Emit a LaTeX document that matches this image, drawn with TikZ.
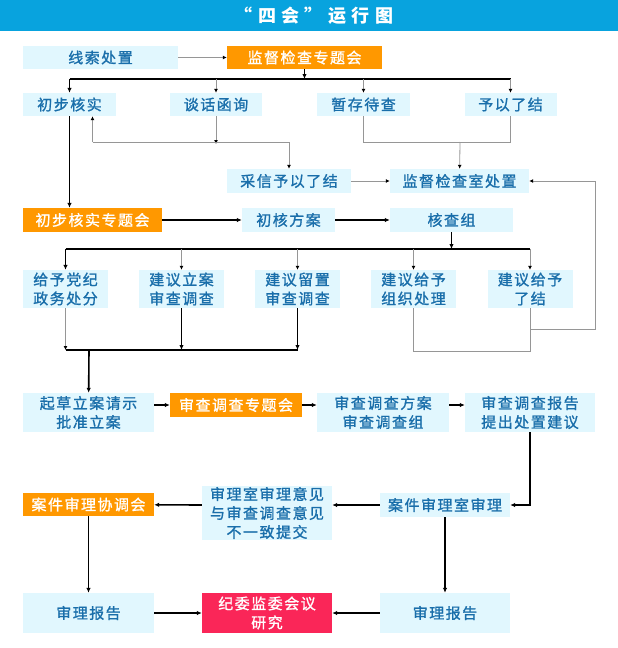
\documentclass[tikz,border=0pt]{standalone}
\usepackage{fontspec}
\setmainfont{Noto Sans CJK SC}[LetterSpace=10,FakeBold=1.2]
\newfontfamily\titlefont{Noto Sans CJK SC}[LetterSpace=30]
\usetikzlibrary{arrows.meta}
\definecolor{titleblue}{RGB}{8,163,222}
\definecolor{boxfill}{RGB}{225,247,254}
\definecolor{txtblue}{RGB}{25,110,170}
\definecolor{hdorange}{RGB}{255,152,0}
\definecolor{hdred}{RGB}{250,38,88}
\definecolor{linegray}{RGB}{150,150,150}
\begin{document}
\begin{tikzpicture}[x=1pt,y=-1pt,
    box/.style={fill=boxfill,text=txtblue,inner sep=0pt,align=center,
      font=\fontsize{15}{19}\selectfont},
    obox/.style={box,fill=hdorange,text=white},
    rbox/.style={box,fill=hdred,text=white},
    thk/.style={black,line width=1.6pt,-{Latex[length=5pt,width=4.5pt]}},
    thn/.style={linegray,line width=0.8pt,-{Latex[length=4pt,width=4pt,color=black]}}]
    \useasboundingbox (0,0) rectangle (618,648);
    \fill[titleblue] (0,0) rectangle (618,31);
    \node[text=white,inner sep=0pt,font=\titlefont\fontsize{18}{18}\selectfont\bfseries] (title) at (314,16) {“四会”运行图};
    % first row
    \node[box,minimum width=155pt,minimum height=23pt] (xs) at (100.5,57.5) {线索处置};
    \node[obox,minimum width=155pt,minimum height=23pt] (jdzt) at (304.5,57.5) {监督检查专题会};
    \node[box,minimum width=93pt,minimum height=23pt] (cbhs) at (69.5,104.5) {初步核实};
    \node[box,minimum width=92pt,minimum height=23pt] (thhx) at (216,104.5) {谈话函询};
    \node[box,minimum width=93pt,minimum height=23pt] (zcdc) at (363.5,104.5) {暂存待查};
    \node[box,minimum width=92pt,minimum height=23pt] (yylj) at (510.5,104.5) {予以了结};
    \node[box,minimum width=124pt,minimum height=24pt] (cxlj) at (289,181) {采信予以了结};
    \node[box,minimum width=139pt,minimum height=24pt] (jdcz) at (459.5,181) {监督检查室处置};
    \node[obox,minimum width=139pt,minimum height=24pt] (cbzt) at (92.5,220) {初步核实专题会};
    \node[box,minimum width=93pt,minimum height=24pt] (chfa) at (288.5,220) {初核方案};
    \node[box,minimum width=123pt,minimum height=24pt] (hcz) at (451.5,220) {核查组};
    % five results
    \node[box,minimum width=85pt,minimum height=38pt] (jy1) at (65.5,289) {给予党纪\\政务处分};
    \node[box,minimum width=85pt,minimum height=38pt] (jy2) at (181.5,289) {建议立案\\审查调查};
    \node[box,minimum width=85pt,minimum height=38pt] (jy3) at (297.5,289) {建议留置\\审查调查};
    \node[box,minimum width=85pt,minimum height=38pt] (jy4) at (413.5,289) {建议给予\\组织处理};
    \node[box,minimum width=85pt,minimum height=38pt] (jy5) at (530,289) {建议给予\\了结};
    % investigation
    \node[box,minimum width=131pt,minimum height=39pt] (qc) at (88.5,412.5) {起草立案请示\\批准立案};
    \node[obox,minimum width=132pt,minimum height=24pt] (sczt) at (236,405) {审查调查专题会};
    \node[box,minimum width=132pt,minimum height=39pt] (scfa) at (383,412.5) {审查调查方案\\审查调查组};
    \node[box,minimum width=130pt,minimum height=39pt] (scbg) at (530,412.5) {审查调查报告\\提出处置建议};
    \node[box,minimum width=130pt,minimum height=24pt] (ajsl) at (445,505) {案件审理室审理};
    \node[box,minimum width=130pt,minimum height=54pt] (bty) at (267,513) {审理室审理意见\\与审查调查意见\\不一致提交};
    \node[obox,minimum width=131pt,minimum height=23pt] (xth) at (88.5,504.5) {案件审理协调会};
    \node[box,minimum width=131pt,minimum height=40pt] (bg1) at (88.5,613) {审理报告};
    \node[rbox,minimum width=130pt,minimum height=40pt] (jwh) at (267,613) {纪委监委会议\\研究};
    \node[box,minimum width=130pt,minimum height=40pt] (bg2) at (445,613) {审理报告};
    % junction points
    \coordinate (b1) at (304.5,79);
    \coordinate (g1) at (216,142);
    \coordinate (g2) at (460,142);
    \coordinate (b2) at (451.5,249);
    \coordinate (b3) at (89,350);
    \coordinate (g3) at (530,329);
    \coordinate (r1) at (595,329);
    \coordinate (d1) at (530,505);

    \draw[thn] (xs) -- (jdzt);
    \draw[thk] (jdzt) -- (b1);
    \draw[line width=1.6pt] (cbhs.north |- b1) -- (yylj.north |- b1);
    \draw[thk] (cbhs.north |- b1) -- (cbhs);
    \draw[thn] (thhx.north |- b1) -- (thhx);
    \draw[thn] (zcdc.north |- b1) -- (zcdc);
    \draw[thn] (yylj.north |- b1) -- (yylj);
    \draw[thn] (thhx) -- ([yshift=-2pt]g1);
    \draw[thn,-] (92.5,142) -- (cxlj.north |- g1);
    \draw[thn] (92.5,142) -- (cbhs.south -| 92.5,0);
    \draw[thn] (cxlj.north |- g1) -- (cxlj);
    \draw[thn,-] (zcdc) -- (zcdc.south |- g2) -- (yylj.south |- g2) -- (yylj);
    \draw[thn] (g2) -- (jdcz);
    \draw[thn] (cxlj) -- (jdcz);
    \draw[thk] (cbhs.south) -- (cbhs.south |- cbzt.north);
    \draw[thk] (cbzt) -- (chfa);
    \draw[thk] (chfa) -- (hcz);
    \draw[thk] (hcz) -- (b2);
    \draw[line width=1.6pt] (jy1.north |- b2) -- (jy5.north |- b2);
    \draw[thk] (jy1.north |- b2) -- (jy1);
    \draw[thn] (jy2.north |- b2) -- (jy2);
    \draw[thn] (jy3.north |- b2) -- (jy3);
    \draw[thn] (jy4.north |- b2) -- (jy4);
    \draw[thn] (jy5.north |- b2) -- (jy5);
    \draw[thn] (jy1) -- (jy1.south |- b3);
    \draw[thk] (jy2) -- (jy2.south |- b3);
    \draw[thk] (jy3) -- (jy3.south |- b3);
    \draw[line width=1.6pt] (jy1.south |- b3) -- (jy3.south |- b3);
    \draw[thk] (b3) -- (qc);
    \draw[thn,-] (jy4) -- (413.5,351) -- (530,351) -- (jy5);
    \draw[thn] (g3) -- (r1) -- (r1 |- jdcz.east) -- (jdcz);
    \draw[thk] (qc.east |- sczt) -- (sczt);
    \draw[thk] (sczt) -- (sczt -| scfa.west);
    \draw[thk] (scfa.east |- sczt) -- (sczt -| scbg.west);
    \draw[thk] (scbg) -- (d1) -- (ajsl);
    \draw[thk] (ajsl) -- (ajsl -| bty.east);
    \draw[thk] (ajsl -| bty.west) -- (xth);
    \draw[thk] (xth) -- (bg1);
    \draw[thk] (ajsl) -- (bg2);
    \draw[thk] (bg1) -- (jwh);
    \draw[thk] (bg2) -- (jwh);
  \end{tikzpicture}
\end{document}
